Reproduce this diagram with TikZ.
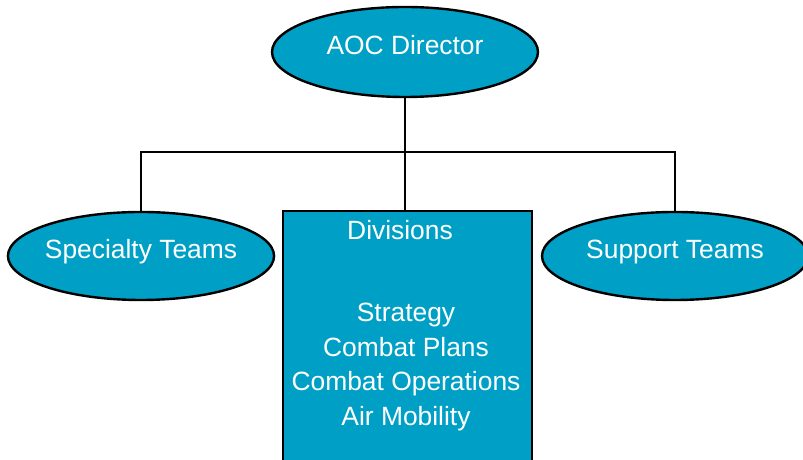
\documentclass[tikz,border=0pt]{standalone}
\usepackage{fontspec}
\setmainfont{Liberation Sans}
\usetikzlibrary{shapes.geometric}
\definecolor{aocblue}{RGB}{0,160,198}
\tikzstyle{team} = [ellipse, minimum width=199.5pt, minimum height=66pt, inner ysep=0pt, inner xsep=-1.5pt, text height=14.6pt, text depth=10.1pt, text centered, draw=black, line width=1.8pt, fill=aocblue, text=white, font=\fontsize{19.8}{23}\selectfont]
\tikzstyle{division} = [rectangle, minimum width=186.75pt, minimum height=202.5pt, draw=black, line width=1.8pt, fill=aocblue]
\tikzstyle{divtext} = [inner sep=0pt, text=white, align=center, font=\fontsize{19.8}{25.9}\selectfont]
\tikzstyle{line} = [line width=1.5pt]

\begin{document}
\begin{tikzpicture}[x=0.75pt,y=0.75pt]
\useasboundingbox (0,0) rectangle (803,460);
\clip (0,0) rectangle (803,460);

\node (director) [team, minimum height=67.5pt] at (405,408) {AOC Director};
\node (specialty) [team] at (141,204) {Specialty Teams};
\node (support) [team] at (675,204) {Support Teams};
\node (divisions) [division, anchor=north] at (407.5,250) {};
\node (divtitle) [divtext, anchor=base] at (400,220) {Divisions};
\node (divlist) [divtext, anchor=north] at (406,157) {Strategy\\Combat Plans\\Combat Operations\\Air Mobility};
\coordinate (bus) at (405,308);

\draw [line] (director) -- (bus);
\draw [line] (bus) -| (specialty);
\draw [line] (bus) -| (support);
\draw [line] (bus) -- (bus |- divisions.north);

\end{tikzpicture}
\end{document}
